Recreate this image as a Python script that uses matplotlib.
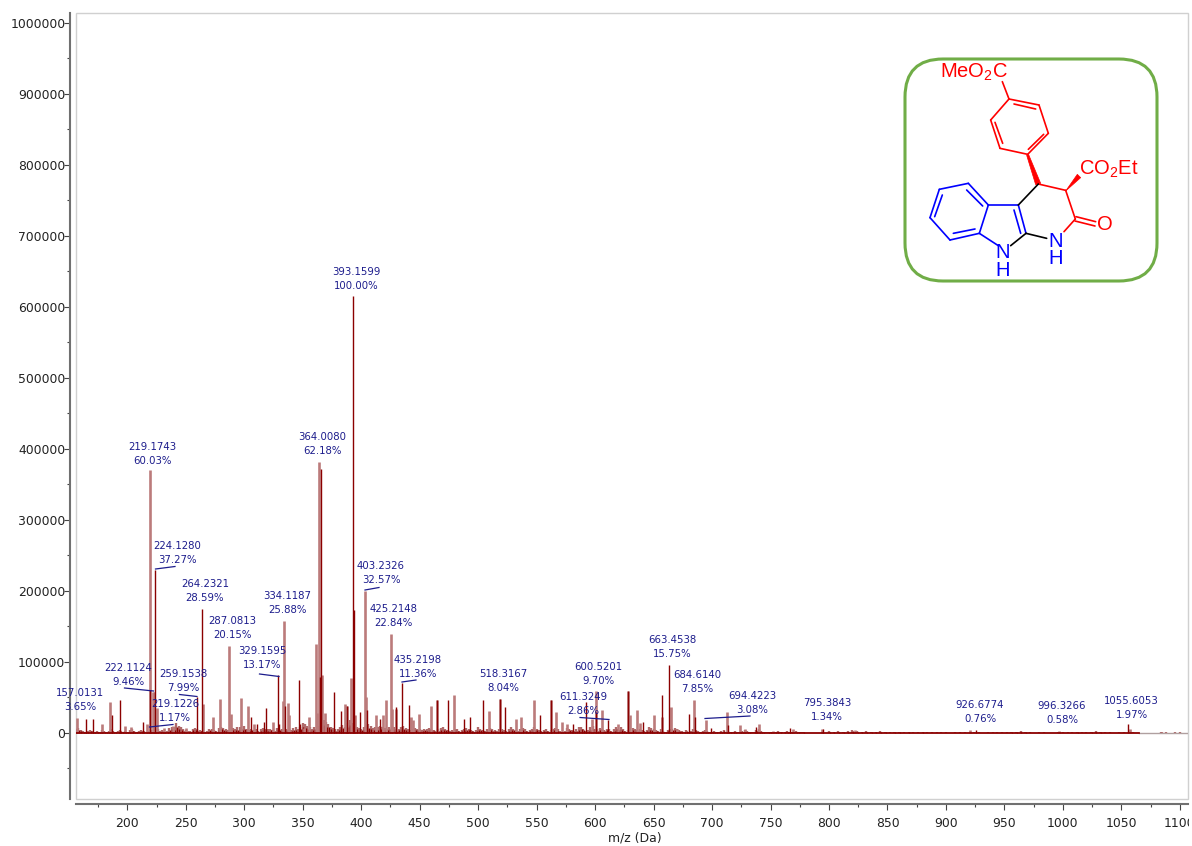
import numpy as np
import matplotlib
matplotlib.use("Agg")
import matplotlib.pyplot as plt
from matplotlib.patches import FancyBboxPatch, Polygon, Rectangle

plt.rcParams['font.family'] = ['DejaVu Sans']
plt.rcParams['mathtext.fontset'] = 'custom'
plt.rcParams['mathtext.rm'] = 'Liberation Sans'

W, H = 1192, 846

# sharp (dark) peaks
dark_mz = [165, 171, 187, 194, 213, 219.2, 224.1, 259.2, 264.2, 306, 311, 317, 319, 329.2, 330, 335, 347, 348,
           364.6, 365.5, 377, 383, 388, 393.2, 394, 399, 405, 416, 430, 435.2, 441, 465, 474, 488, 493, 504, 518.3,
           523, 553, 562, 581, 592, 600.5, 611, 628, 641, 657, 663.4, 680, 685.5, 699.5, 713.5, 738, 767, 795,
           926, 1055.6]
dark_int = [20000, 20000, 25000, 47000, 16000, 60000, 230000, 50000, 175000, 22000, 12000, 15000, 35000, 81000,
            13000, 38000, 75000, 12000, 79000, 372000, 58000, 31000, 38000, 615000, 173000, 30000, 32000, 19000,
            37000, 70000, 39000, 46000, 47000, 20000, 23000, 46000, 47500, 37000, 26000, 47000, 12000, 44000, 30000,
            18000, 59000, 16000, 53000, 96000, 27000, 22000, 7500, 11000, 9000, 7000, 5000, 3500, 12000]

# broad (pale) peaks
light_mz = [156.7, 178, 185, 198, 203, 217, 219.2, 221.7, 223, 225, 231, 239, 250, 265, 273, 279, 287, 288.5, 297,
            303, 308, 325, 333, 334.1, 337, 338, 351, 355, 361, 362, 364, 366.5, 369, 386, 388, 391, 395,
            403.2, 404, 413, 419, 421, 425.2, 426, 430, 443, 444.5, 449, 460, 465, 479, 509.4, 518.3, 532, 537, 548,
            562, 567, 572, 576, 597, 600.6, 606, 620, 628, 630, 636, 638, 650, 657.5, 664.5, 670, 684.4, 694.6,
            712.6, 724, 728.5, 740.5, 752, 769, 794, 822, 921, 997, 1057]
light_int = [21000, 12000, 44000, 10000, 8000, 12000, 370000, 57000, 58000, 35000, 7000, 10000, 7000, 41000, 22000,
             48000, 123000, 27000, 49000, 38000, 12000, 15000, 45000, 158000, 42000, 26000, 7000, 22000, 125000,
             28000, 382000, 82000, 28000, 41000, 38000, 78000, 25000, 200000, 50000, 26000, 25000, 47000,
             140000, 34000, 34000, 22000, 18000, 27000, 38000, 46000, 53000, 31000, 47500, 19000, 23000, 46000,
             47000, 30000, 15000, 13000, 19000, 59000, 32000, 12000, 59000, 25000, 33000, 14000, 26000, 23000,
             36000, 6000, 46000, 18000, 29000, 11000, 6000, 13000, 3000, 5000, 6000, 4000, 3500, 3000, 5000]

# baseline grass, thousands of counts, one value every 2 Da from 156
floor_low = [6, 7, 4, 3, 2, 3, 4, 3, 2, 3, 2, 4, 3, 2, 3, 5, 3, 2, 3, 4, 2, 3, 2, 4, 5, 3, 2, 3, 4, 3,
             2, 3, 4, 2, 3, 5, 3, 4, 2, 3, 7, 9, 8, 14, 10, 8, 5, 4, 3, 3, 6, 7, 5, 4, 3, 2, 3, 6, 5, 4,
             3, 7, 9, 7, 5, 4, 3, 7, 6, 8, 8, 6, 10, 5, 4, 6, 4, 5, 3, 5, 7, 6, 5, 6, 4, 3, 7, 6, 5, 4,
             6, 5, 4, 7, 8, 5, 9, 14, 12, 10, 8, 6, 9, 6, 10, 16, 18, 15, 13, 9, 7, 5, 6, 9, 11, 8, 14, 18, 14, 12,
             9, 7, 6, 8, 10, 12, 10, 7, 9, 8, 10, 8, 7, 6, 9, 7, 8, 5, 6, 8, 10, 7, 5, 4, 6, 7, 6, 5, 4, 6,
             5, 7, 6, 4, 3, 5, 7, 8, 6, 4, 3, 4, 6, 5, 3, 4, 5, 7, 6, 4, 3, 4, 8, 6, 4, 3, 5, 7, 5, 4,
             3, 6, 5, 4, 3, 5, 8, 6, 4, 3, 5, 7, 5, 3, 4, 6, 8, 6, 4, 3, 4, 5, 3, 4, 6, 7, 5, 3, 2, 3,
             7, 6, 4, 3, 5, 8, 9, 6, 3, 4, 8, 10, 6, 5, 7, 5, 4, 6, 5, 3, 5, 9, 6, 8, 5, 3, 4, 3, 7, 6,
             4, 6, 4, 3, 4, 8, 7, 5, 4, 3, 5, 3, 2, 4, 5, 6, 7, 5, 4, 3, 2, 4, 2, 3, 5, 4, 3, 2, 3, 4,
             3, 2, 2, 3, 2, 2, 3, 4, 2, 3, 2, 2, 3, 1, 2, 3, 4, 3, 2, 1, 2, 4, 5, 3, 2, 1, 2, 2, 1, 2,
             3, 2, 1, 2, 3, 2, 2, 1, 3, 2, 1, 2]
# thousands of counts, one value every 4 Da from 800
floor_high = [3, 2, 3, 2, 3, 4, 3, 2, 3, 2, 2, 3, 2, 1, 2, 2, 1, 2, 1, 1, 2, 1, 1, 1, 1, 1, 0.5, 1, 1, 1,
              0.5, 1, 1, 0.5, 1, 1, 1, 1, 1, 1.5, 2, 3, 1.5, 1, 0.5, 1, 1, 0.5, 0, 1, 1, 1, 1, 1.5, 1, 1, 2, 2.5, 1.5, 1,
              1, 0.5, 1, 1, 0.5, 1, 0, 0, 0, 0, 0, 2, 1, 0, 1, 1, 0.5, 0, 1, 0]

label_mz = ['393.1599', '219.1743', '364.0080', '224.1280', '403.2326', '264.2321', '334.1187', '425.2148',
            '287.0813', '329.1595', '435.2198', '222.1124', '259.1538', '157.0131', '219.1226', '518.3167',
            '600.5201', '611.3249', '663.4538', '684.6140', '694.4223', '795.3843', '926.6774', '996.3266',
            '1055.6053']
label_pct = ['100.00%', '60.03%', '62.18%', '37.27%', '32.57%', '28.59%', '25.88%', '22.84%', '20.15%', '13.17%',
             '11.36%', '9.46%', '7.99%', '3.65%', '1.17%', '8.04%', '9.70%', '2.86%', '15.75%', '7.85%', '3.08%',
             '1.34%', '0.76%', '0.58%', '1.97%']
# label placement in image pixels (centre x, first line y)
label_xy = [(356, 272), (152, 447), (322, 437), (177.5, 546), (381, 566), (205, 584), (287, 596), (393.5, 609),
            (232, 621), (262, 651), (418, 660), (128, 668), (183, 674), (80, 693), (175, 704), (503, 674),
            (598.5, 667), (583, 697), (672.5, 640), (697, 675), (752, 696), (827, 703), (980, 705.5), (1062, 706),
            (1131.5, 701)]
leaders = [(155.5, 569, 175, 566.5), (365, 590, 379, 587.5), (402, 682, 416, 680), (259.5, 674, 279, 676.5),
           (124.5, 688, 153.5, 691), (179.5, 694.5, 197, 696.5), (149.5, 727, 173, 724.5), (580, 717.5, 609, 719.5),
           (705, 718.5, 750, 716)]

fig = plt.figure(figsize=(W / 100, H / 100), dpi=100)
ax = fig.add_axes([75.5 / W, 1 - 799 / H, (1188 - 75.5) / W, (799 - 13) / H])
ax.set_xlim(155.7, 1107)
ax.set_ylim(-93000, 1014000)

floor_x = np.concatenate([156 + 2 * np.arange(len(floor_low)), 800 + 4 * np.arange(len(floor_high))])
floor_y = np.concatenate([np.array(floor_low), np.array(floor_high)]) * 1000
ax.vlines(floor_x, 0, floor_y, color='#b06a6a', lw=1.7)
ax.vlines(floor_x + 0.6, 0, floor_y * 0.6, color='#8b0000', lw=1.0)
ax.vlines(light_mz, 0, light_int, color='#bb7b7b', lw=1.9)
ax.vlines(dark_mz, 0, dark_int, color='#8b0000', lw=1.0)
ax.plot([1065, 1107], [0, 0], color='#b0a0a0', lw=1.0)
ax.plot([155.7, 1065], [0, 0], color='#8b0000', lw=1.3)

ax.set_xticks(np.arange(200, 1101, 50))
ax.set_xticks(np.arange(175, 1101, 50), minor=True)
ax.set_yticks(np.arange(0, 1000001, 100000))
ax.set_yticks(np.arange(-50000, 1000001, 100000), minor=True)
ax.ticklabel_format(style='plain', axis='y')
for s in ['top', 'right']:
    ax.spines[s].set_visible(False)
for s in ['left', 'bottom']:
    ax.spines[s].set_color('#707070')
    ax.spines[s].set_linewidth(1.5)
ax.spines['left'].set_position(('outward', 3.8))
ax.spines['bottom'].set_position(('outward', 3.8))
ax.tick_params(axis='both', which='major', length=4, width=0.8, color='#444444', labelsize=8.9, labelcolor='#222222')
ax.tick_params(axis='both', which='minor', length=2, width=0.8, color='#444444')
ax.tick_params(axis='y', which='major', pad=-0.5)
ax.tick_params(axis='x', which='major', pad=5.3)
ax.set_xlabel('m/z (Da)', fontsize=8.9, color='#222222', labelpad=2)
ax.xaxis.set_label_coords((635 - 75.5) / (1188 - 75.5), -(831 - 799) / (799 - 13), transform=ax.transAxes)
ax.add_patch(Rectangle((0, 0), 1, 1, transform=ax.transAxes, fill=False, ec='#d0d0d0', lw=1.0, clip_on=False))

# overlay in image pixels: labels and the structure
ov = fig.add_axes([0, 0, 1, 1], facecolor='none')
ov.set_xlim(0, W)
ov.set_ylim(H, 0)
ov.axis('off')
ov.add_patch(Rectangle((1188.5, 812), 5, 24, fc='white', ec='none'))

for name, pct, (cx, cy) in zip(label_mz, label_pct, label_xy):
    ov.text(cx, cy, name, ha='center', va='center', fontsize=7.3, color='#1c1c8c')
    ov.text(cx, cy + 13.7, pct, ha='center', va='center', fontsize=7.3, color='#1c1c8c')
for x0, y0, x1, y1 in leaders:
    ov.plot([x0, x1], [y0, y1], color='#1c1c8c', lw=0.9)

ov.add_patch(FancyBboxPatch((905 + 38, 59 + 38), 252 - 76, 222 - 76, boxstyle='round,pad=38,rounding_size=38',
                            fc='white', ec='#70ad47', lw=2.2))


def zx(p):
    return 890 + p[0] / 3, 40 + p[1] / 3


def bonds(pairs, color, lw=1.2):
    for a, b in pairs:
        (x0, y0), (x1, y1) = zx(a), zx(b)
        ov.plot([x0, x1], [y0, y1], color=color, lw=lw, solid_capstyle='round')


red_bonds = [((357, 177), (447, 195)), ((447, 195), (475, 280)), ((475, 280), (413, 343)), ((413, 343), (330, 325)),
             ((330, 325), (302, 240)), ((302, 240), (357, 177)), ((372, 192), (437, 207)), ((315, 247), (338, 310)),
             ((461, 283), (415, 328)), ((357, 177), (337, 125)), ((445, 432), (527, 451)), ((527, 451), (556, 537)),
             ((556, 537), (522, 575)), ((558, 530), (617, 545)), ((555, 543), (615, 558))]
blue_bonds = [((385, 495), (408, 580)), ((372, 510), (392, 580)), ((385, 495), (295, 495)), ((295, 495), (268, 580)),
              ((268, 580), (180, 600)), ((180, 600), (120, 533)), ((120, 533), (148, 448)), ((148, 448), (235, 430)),
              ((235, 430), (295, 495)), ((230, 450), (278, 498)), ((134, 530), (157, 465)), ((190, 580), (255, 567)),
              ((268, 580), (325, 617))]
black_bonds = [((445, 432), (385, 495)), ((408, 580), (470, 595)), ((408, 580), (362, 617))]
bonds(red_bonds, '#ff0000')
bonds(blue_bonds, '#0000ff')
bonds(black_bonds, '#000000')
ov.add_patch(Polygon([zx((410, 346)), zx((416, 344)), zx((452, 430)), zx((437, 434))], fc='#ff0000', ec='#ff0000', lw=0.5))
ov.add_patch(Polygon([zx((527, 453)), zx((572, 413)), zx((562, 403))], fc='#ff0000', ec='#ff0000', lw=0.5))

ov.text(974, 72, r'$\mathrm{MeO_2C}$', color='#ff0000', fontsize=14.5, ha='center', va='center')
ov.text(1109, 169, r'$\mathrm{CO_2Et}$', color='#ff0000', fontsize=14.5, ha='center', va='center')
ov.text(1105, 225, 'O', color='#ff0000', fontsize=14.5, ha='center', va='center', family='Liberation Sans')
for tx, ty, t in [(1055.7, 241.7, 'N'), (1055.7, 259, 'H'), (1003, 252, 'N'), (1003, 270, 'H')]:
    ov.text(tx, ty, t, color='#0000ff', fontsize=14.5, ha='center', va='center', family='Liberation Sans')

fig.savefig('out.png', dpi=100)
